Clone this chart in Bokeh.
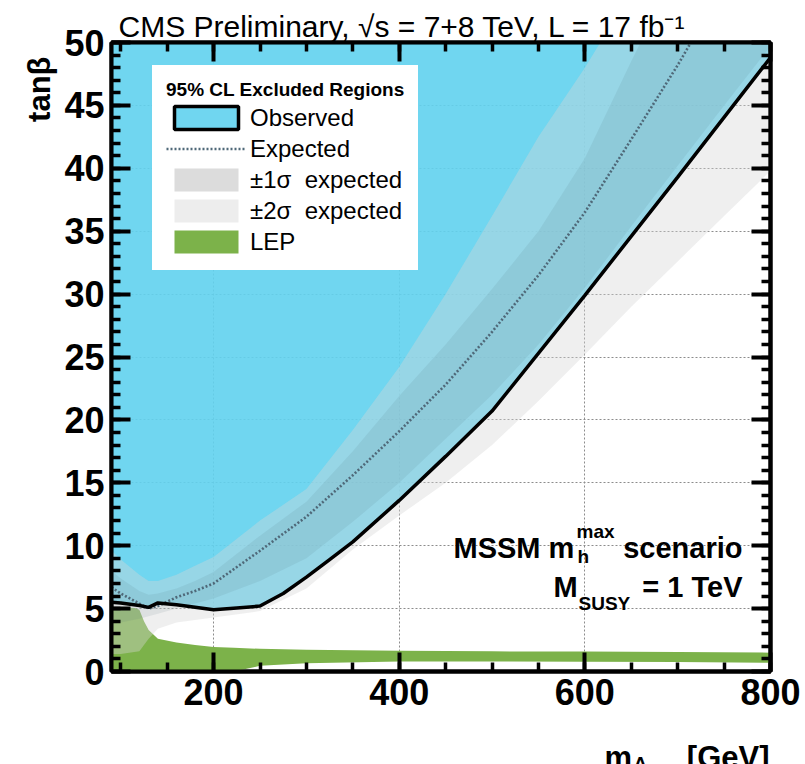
import math
from bokeh.plotting import figure
from bokeh.layouts import column
from bokeh.models import (Range1d, LinearAxis, SingleIntervalTicker, Label,
                          Legend, LegendItem, Title, CustomJSTickFormatter)
from bokeh.embed import file_html
from bokeh.resources import INLINE

nan = float("nan")

# ---------------- data ----------------
obs_mA = [90, 100, 120, 130, 140, 160, 180, 200, 225, 250, 275, 300, 325,
          350, 400, 450, 500, 600, 700, 800]
observed = [5.5, 5.45, 5.25, 5.1, 5.45, 5.3, 5.1, 4.9, 5.05, 5.2, 6.2, 7.5,
            8.9, 10.3, 13.6, 17.1, 20.7, 29.9, 39.3, 48.8]

mA = [90, 100, 120, 130, 140, 160, 180, 200, 250, 300, 350, 400, 450, 500,
      550, 600, 650, 700, 750, 800]
expected = [6.7, 6.2, 5.4, 5.0, 5.2, 5.9, 6.4, 7.0, 9.6, 12.3, 15.6, 19.1,
            22.8, 27.0, 31.5, 36.5, 42.3, 48.2, 54.5, 61.0]
plus1 = [8.0, 7.4, 6.4, 6.1, 6.2, 6.6, 7.2, 7.9, 10.8, 13.5, 17.5, 21.9,
         26.0, 30.4, 35.0, 40.8, 48.5, 56.0, 63.0, 70.0]
plus2 = [9.6, 8.9, 7.7, 7.2, 7.2, 7.7, 8.4, 9.1, 12.0, 14.5, 19.2, 24.2,
         30.0, 36.2, 42.5, 48.0, 54.0, 61.0, 68.0, 75.0]
minus1 = [3.8, 3.9, 4.2, 4.4, 4.6, 5.0, 5.4, 5.8, 7.2, 9.0, 11.9, 15.0,
          18.5, 22.0, 26.0, 30.5, 35.4, 40.2, 45.0, 49.7]
minus2 = [1.4, 1.4, 1.6, 2.6, 3.4, 3.9, 4.1, 4.3, 4.8, 6.6, 9.7, 12.4,
          15.0, 18.0, 21.5, 25.2, 29.0, 32.6, 36.2, 39.8]

lep_mA = [90, 100, 115, 120, 125, 130, 140, 160, 180, 200, 222, 250, 300,
          400, 500, 600, 700, 800]
lep_top = [5.1, 5.1, 5.05, 4.9, 4.0, 3.3, 2.6, 2.3, 2.1, 1.95, 1.88, 1.8,
           1.72, 1.65, 1.6, 1.58, 1.55, 1.5]
lep_bottom = [0, 0, 0, 0, 0, 0, 0, 0, 0, 0, 0, 0.45, 0.65, 0.8, 0.8, 0.78,
              0.75, 0.7]

x_lo, x_hi = 90, 800
y_lo, y_hi = 0, 50

legend_labels = ["Observed", "Expected", "\u00b11\u03c3  expected",
                 "\u00b12\u03c3  expected", "LEP"]
title_text = "CMS Preliminary, \u221as = 7+8 TeV, L = 17 fb\u207b\u00b9"

# ---------------- style ----------------
FONT = "Liberation Sans"
BLUE = "#60d1ee"
GREEN = "#7cb24a"

p = figure(frame_width=659, frame_height=629,
           x_range=Range1d(x_lo, x_hi), y_range=Range1d(y_lo, y_hi),
           output_backend="svg", toolbar_location=None,
           min_border_left=111, min_border_right=32,
           min_border_top=42, min_border_bottom=64,
           background_fill_color="white", border_fill_color="white")
p.outline_line_color = "black"
p.outline_line_width = 4

p.title.text = title_text
p.title.align = "left"
p.title.offset = 7
p.title.standoff = 0
p.title.text_font = FONT
p.title.text_font_style = "normal"
p.title.text_font_size = "30px"
p.title.text_color = "black"

xt = SingleIntervalTicker(interval=200, num_minor_ticks=4)
yt = SingleIntervalTicker(interval=5, num_minor_ticks=5)


def style_axis(ax, ticker, labels=True):
    ax.ticker = ticker
    ax.axis_line_width = 4
    ax.axis_line_color = "black"
    ax.major_tick_in = 19
    ax.major_tick_out = 0
    ax.minor_tick_in = 9
    ax.minor_tick_out = 0
    ax.major_tick_line_width = 4
    ax.minor_tick_line_width = 3.5
    ax.major_tick_line_color = "black"
    ax.minor_tick_line_color = "black"
    if labels:
        ax.major_label_text_font = FONT
        ax.major_label_text_font_style = "bold"
        ax.major_label_text_font_size = "36px"
        ax.major_label_text_color = "black"
        ax.major_label_text_line_height = 1.0
        ax.major_label_standoff = 7
    else:
        ax.formatter = CustomJSTickFormatter(code="return ''")
        ax.major_label_standoff = 0


style_axis(p.xaxis[0], xt)
style_axis(p.yaxis[0], yt)
right_ax = LinearAxis()
p.add_layout(right_ax, "right")
style_axis(right_ax, yt, labels=False)
top_ax = LinearAxis()
p.add_layout(top_ax, "above")
style_axis(top_ax, xt, labels=False)

p.add_layout(Title(text="tan\u03b2", align="right", offset=14,
                   text_font=FONT, text_font_style="bold",
                   text_font_size="31px", text_color="black"), "left")

p.xgrid.ticker = xt
p.ygrid.ticker = yt
for g in (p.xgrid[0], p.ygrid[0]):
    g.grid_line_color = "#8c8c8c"
    g.grid_line_dash = "2 2"
    g.grid_line_width = 1

# ---------------- fills ----------------
p.varea(x=lep_mA, y1=lep_bottom, y2=lep_top, fill_color=GREEN)
p.varea(x=obs_mA, y1=observed, y2=y_hi, fill_color=BLUE, fill_alpha=0.9)
p.varea(x=mA, y1=minus2, y2=plus2, fill_color="#d6d6d6", fill_alpha=0.39)
p.varea(x=mA, y1=minus1, y2=plus1, fill_color="#40606c", fill_alpha=0.1)

exp_r = p.line(mA, expected, line_color="#4f6878", line_width=2.6,
               line_dash="2 2")
p.line(obs_mA, observed, line_color="black", line_width=3.5)

# legend swatches (renderers with a single empty point)
sw_obs = p.quad(left=[nan], right=[nan], top=[nan], bottom=[nan],
                fill_color="#70d6f0", line_color="black", line_width=3.5)
sw_1s = p.quad(left=[nan], right=[nan], top=[nan], bottom=[nan],
               fill_color="#dcdcdc", line_color=None)
sw_2s = p.quad(left=[nan], right=[nan], top=[nan], bottom=[nan],
               fill_color="#ededed", line_color=None)
sw_lep = p.quad(left=[nan], right=[nan], top=[nan], bottom=[nan],
                fill_color=GREEN, line_color=None)

legend = Legend(items=[LegendItem(label=legend_labels[0], renderers=[sw_obs]),
                       LegendItem(label=legend_labels[1], renderers=[exp_r]),
                       LegendItem(label=legend_labels[2], renderers=[sw_1s]),
                       LegendItem(label=legend_labels[3], renderers=[sw_2s]),
                       LegendItem(label=legend_labels[4], renderers=[sw_lep])],
                location=(41, 401), title="95% CL Excluded Regions",
                title_text_font=FONT, title_text_font_style="bold",
                title_text_font_size="19px", title_text_color="black",
                title_text_line_height=1.0, title_standoff=2,
                label_text_font=FONT, label_text_font_size="24px",
                label_text_color="black",
                label_height=24, glyph_height=29, glyph_width=80,
                label_width=147, label_standoff=4, spacing=2,
                padding=13, margin=0,
                border_line_color="white", border_line_width=1,
                background_fill_color="white", background_fill_alpha=1.0)
p.add_layout(legend)


def lab(fig, text, x, y, size, align="left", units="screen"):
    fig.add_layout(Label(x=x, y=y, x_units=units, y_units=units,
                         text=text, text_font=FONT, text_font_style="bold",
                         text_font_size=size, text_align=align,
                         text_baseline="alphabetic", text_color="black"))


# scenario text (inside the frame; frame-relative pixels)
lab(p, "MSSM m", 342, 124, "29px")
lab(p, "h", 466, 115, "19px")
lab(p, "max", 465, 140, "19px")
lab(p, "scenario", 631, 124, "29px", align="right")
lab(p, "M", 442, 85, "29px")
lab(p, "SUSY", 467, 68, "19px")
lab(p, "= 1 TeV", 631, 85, "29px", align="right")

# footer strip carrying the x-axis title (coordinates = page pixels)
FH = 29
foot = figure(title=None, frame_width=659, frame_height=FH,
              x_range=Range1d(111, 770), y_range=Range1d(0, FH),
              output_backend="svg", toolbar_location=None,
              x_axis_type=None, y_axis_type=None,
              min_border_left=111, min_border_right=32,
              min_border_top=0, min_border_bottom=0,
              outline_line_color=None,
              background_fill_color="white", border_fill_color="white")
lab(foot, "m", 604, 7, "31px", units="data")
lab(foot, "A", 633, 1, "19px", units="data")
lab(foot, "[GeV]", 769, 7, "31px", align="right", units="data")

layout = column(p, foot, spacing=0)
open("out.html", "w").write(file_html(layout, INLINE))
